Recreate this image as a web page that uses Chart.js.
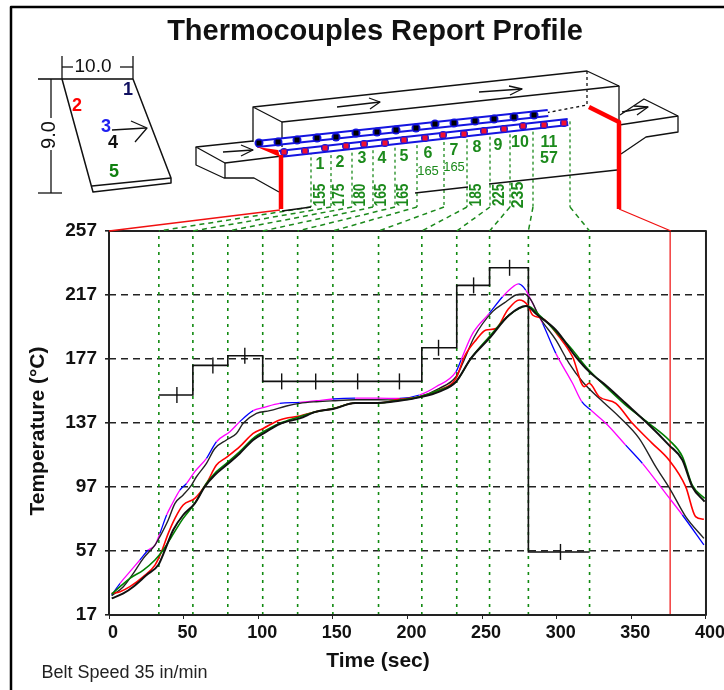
<!DOCTYPE html>
<html>
<head>
<meta charset="utf-8">
<title>Thermocouples Report Profile</title>
<script src="https://cdn.jsdelivr.net/npm/chart.js@4"></script>
<style>
  html, body { margin: 0; padding: 0; background: #fff; }
  canvas { display: block; filter: blur(0.35px); }
</style>
</head>
<body>
<canvas id="myChart" width="724" height="690"></canvas>
<script>
const tiempoTc1 = [1.8,9.6,16.3,25.2,33,37.5,43,49.7,57.5,64.2,70.9,78.7,87.6,96.6,105.5,114.4,127.8,139,150,165,180,194.6,208,221.4,232.5,242.5,254.8,268.2,279.3,287.1,299.4,312.8,321.7,334,346.2,360.7,375.2,384.2,390.8,399.1];
const tempTc1 = [27.4,30.5,34.7,42,48.2,57.6,70.1,79.5,86.8,97.2,104.5,110.7,118,126.4,131.6,136.4,139.9,144.1,145.7,149.5,149.5,150.9,153,156.6,162.8,177.4,189.9,204.5,210.1,204.5,195.1,178.4,169.1,159.7,149.3,136.8,123.2,113.9,97.2,87.8];

const tiempoTc2 = [1.8,7.4,14,23,30.8,35.2,39.7,44.2,49.7,57.5,65.3,72,78.7,87.6,96.6,103.3,114.4,127.8,139,150,165,180,194.6,208,221.4,232.5,238.1,245.9,252.6,259.3,267.1,274.9,280.5,283.8,290.5,301.6,310.6,318.4,321.7,328.4,339.6,350.7,364,375.2,386.4,393,398.6];
const tempTc2 = [30.5,31.6,34.7,41,48.2,56.6,68,77.4,85.7,89.9,99.3,110.7,115.5,122.2,130.5,133.6,138.9,141.4,144.1,146,149.5,149.5,151.8,153.4,157.6,164.9,178.4,188.8,195.1,196.1,207.6,213.9,210.7,204.5,202.4,190.9,178.4,159.7,161.8,153.4,149.3,136.8,124.3,113.9,97.2,78.5,76.8];

const tiempoTc3 = [1.8,7.4,14,20.7,26.3,30.8,34.1,38.6,41.9,47.5,52,57.5,65.3,72,81,87.6,96.6,103.3,114.4,127.8,139,150,165,180,194.6,208,219.1,232.5,235.9,243.7,254.8,263.7,269.3,274.4,279.2,283.8,290.5,299.4,310.6,316.8,322.8,332.9,346.2,357.4,373,384.2,398.6];
const tempTc3 = [29.5,36.8,44.1,51.4,57.6,60.7,68,79.5,85.7,95.1,99.3,106.6,114.9,125.3,131.6,137.8,144.7,146.6,149.3,149.9,150.9,152,152.5,152.5,152.4,154.5,159.7,169.1,176.4,193,205.5,215.9,221.1,223.9,220.1,211.8,199.3,180.5,161.8,150.3,145.1,136.8,123.2,111.8,93,79.5,60.8];

const tiempoTc4 = [1.8,9.6,16.3,23,30.8,34.1,39.7,44.2,49.7,55.3,58.6,65.3,70.9,78.7,85.4,89.9,98.8,107.7,118.9,127.8,139,150,165,180,194.6,208,221.4,232.5,237,244.8,257,266,272.7,278.2,282.7,288.3,299.4,308.3,317.3,328.4,341.8,355.2,366.3,376.3,386.4,398.6];
const tempTc4 = [29,34.7,43,52.4,60.7,66,76.4,86.8,92,98.2,103.4,111.8,121.1,126.4,130.5,136.8,143,144.7,147.6,149.3,150.3,150.9,151.5,151.5,151.4,153.4,158.7,165.9,174.3,190.9,206.6,212.8,217,217.6,213.9,203.4,188.9,174.3,162.8,152.4,140.9,127.4,109.7,95.1,78.5,64.9];

const tiempoTc5 = [1.8,7.4,14,23,30.8,36.3,41.9,49.7,57.5,65.3,72,78.7,87.6,96.6,105.5,114.4,127.8,139,150,165,180,194.6,208,221.4,232.5,242.5,254.8,268.2,280.5,288.3,299.4,310.6,319.5,332.9,346.2,361.8,375.2,384.2,390.8,399.1];
const tempTc5 = [30.1,34.7,39.9,45.1,51.4,57.6,65.9,77.4,86.8,99.3,106.6,111.8,119.1,127.4,132.6,136.8,140.9,144.1,146,149.5,149.5,151.4,153.4,157.6,162.8,177.4,190.9,204.5,210.1,204.5,194.1,182.6,172.2,159.7,148.2,136.8,126.4,116,98.2,89.9];

// zonas del horno
const zonasLimite = [33.4,56.2,79.6,103,126.4,150,180.6,209.6,233,255,281,322];
const zonasTemp = [154.5,173,179,163,163,163,163,184,223,234,56.4];
const marcasTiempo = [45.5,69.6,91,115.7,138.5,166.6,194.6,220.8,244.3,268.4,302.5];
const tiempoSalida = 376;

const yTicks = [17,57,97,137,177,217,257];
const xTicks = [0,50,100,150,200,250,300,350,400];

const fuente = '"Liberation Sans", Arial, sans-serif';
const verde = '#1c8a1c';

function puntos(xs, ys) {
  return xs.map((x, i) => ({ x: x, y: ys[i] }));
}

function curva(label, xs, ys, color, ancho) {
  return {
    label: label,
    data: puntos(xs, ys),
    borderColor: color,
    borderWidth: ancho,
    pointRadius: 0,
    showLine: true,
    cubicInterpolationMode: 'monotone',
  };
}

// escalones del perfil programado
const perfil = [];
zonasTemp.forEach((t, i) => {
  perfil.push({ x: zonasLimite[i], y: t });
  perfil.push({ x: zonasLimite[i + 1], y: t });
});

const lineasZona = zonasLimite.map((x) => ({
  label: 'zona',
  data: [{ x: x, y: 17 }, { x: x, y: 257 }],
  borderColor: '#118a11',
  borderWidth: 1.6,
  borderDash: [3, 5],
  pointRadius: 0,
  showLine: true,
}));

const tc3 = curva('TC3', tiempoTc3, tempTc3, '#ff00ff', 1.3);
tc3.segment = { borderColor: (c) => (c.p0DataIndex % 3 === 0 ? '#0000ff' : undefined) };

const datasets = [
  curva('TC1', tiempoTc1, tempTc1, '#111111', 2),
  curva('TC5', tiempoTc5, tempTc5, '#008000', 1.6),
  curva('TC2', tiempoTc2, tempTc2, '#ff0000', 1.6),
  curva('TC4', tiempoTc4, tempTc4, '#222222', 1.4),
  tc3,
  {
    label: 'Perfil',
    data: perfil,
    borderColor: '#111111',
    borderWidth: 1.6,
    pointRadius: 0,
    showLine: true,
  },
  {
    label: 'Marcas',
    data: puntos(marcasTiempo, zonasTemp),
    borderColor: '#111111',
    borderWidth: 1.4,
    pointStyle: 'line',
    rotation: 90,
    pointRadius: 8,
    showLine: false,
  },
  {
    label: 'Salida',
    data: [{ x: tiempoSalida, y: 17 }, { x: tiempoSalida, y: 257 }],
    borderColor: '#f23c3c',
    borderWidth: 1.5,
    pointRadius: 0,
    showLine: true,
  },
].concat(lineasZona);

function trazo(ctx, pts, color, ancho, dash) {
  ctx.save();
  ctx.strokeStyle = color || '#111';
  ctx.lineWidth = ancho || 1.3;
  ctx.setLineDash(dash || []);
  ctx.lineJoin = 'round';
  ctx.beginPath();
  pts.forEach((p, i) => (i ? ctx.lineTo(p[0], p[1]) : ctx.moveTo(p[0], p[1])));
  ctx.stroke();
  ctx.restore();
}

function texto(ctx, str, x, y, font, color, rot, maxAncho) {
  ctx.save();
  ctx.translate(x, y);
  if (rot) ctx.rotate(rot);
  ctx.font = font;
  ctx.fillStyle = color || '#111';
  ctx.textAlign = 'center';
  ctx.textBaseline = 'middle';
  ctx.fillText(str, 0, 0, maxAncho);
  ctx.restore();
}

// dibujo de la placa y del horno, arriba del grafico
const dibujoHorno = {
  id: 'dibujoHorno',
  afterDatasetsDraw(chart) {
    const ctx = chart.ctx;
    const a = chart.chartArea;
    const sx = chart.scales.x;

    // marco del grafico
    trazo(ctx, [[a.left, a.bottom], [a.left, a.top], [a.right, a.top], [a.right, a.bottom], [a.left, a.bottom]], '#222', 2);

    // borde de la pagina
    trazo(ctx, [[724, 7], [11, 7], [11, 690]], '#000', 2.5);

    // textos
    texto(ctx, 'Thermocouples Report Profile', 375, 32, 'bold 29px ' + fuente, '#111', 0, 421);
    texto(ctx, 'Time (sec)', 378, 661, 'bold 21px ' + fuente, '#111', 0, 105);
    texto(ctx, 'Temperature (°C)', 38, 431, 'bold 21px ' + fuente, '#111', -Math.PI / 2, 173);
    texto(ctx, 'Belt Speed 35 in/min', 124.5, 673, '18px ' + fuente, '#222', 0, 169);

    // placa
    trazo(ctx, [[38, 79], [133, 79]], '#444', 2);
    trazo(ctx, [[62, 56], [62, 79]]);
    trazo(ctx, [[133, 56], [133, 79]]);
    trazo(ctx, [[62, 67], [73, 67]]);
    trazo(ctx, [[120, 67], [133, 67]]);
    texto(ctx, '10.0', 93, 67, '19px ' + fuente);
    trazo(ctx, [[62, 79], [93, 192], [171, 183], [171, 178], [133, 79]], '#111', 1.5);
    trazo(ctx, [[92, 186], [171, 178]]);
    trazo(ctx, [[38, 193], [62, 193]]);
    trazo(ctx, [[51, 79], [51, 118]]);
    trazo(ctx, [[51, 150], [51, 193]]);
    texto(ctx, '9.0', 49, 135, '20px ' + fuente, '#111', -Math.PI / 2);
    texto(ctx, '1', 128, 90, 'bold 18px ' + fuente, '#101060');
    texto(ctx, '2', 77, 106, 'bold 18px ' + fuente, '#ff0000');
    texto(ctx, '3', 106, 127, 'bold 18px ' + fuente, '#2020f0');
    texto(ctx, '4', 113, 143, 'bold 18px ' + fuente, '#111');
    texto(ctx, '5', 114, 172, 'bold 18px ' + fuente, '#108010');
    trazo(ctx, [[112, 130], [146, 128]]);
    trazo(ctx, [[131, 121], [147, 128], [135, 142]]);

    // postes rojos y union con el grafico
    trazo(ctx, [[a.left, 231], [280, 210]], '#f01010', 1.3);
    trazo(ctx, [[619, 209], [671, 231]], '#f01010', 1.3);

    // lineas de zona: bajan del horno y se abren hacia el grafico
    const xHorno = [311, 331, 352, 373, 395, 417, 444, 467, 490, 510, 533, 570];
    xHorno.forEach((x, i) => {
      const yArriba = 155 - (x - 280) * 0.116;
      const xAbajo = sx.getPixelForValue(zonasLimite[i]);
      trazo(ctx, [[x, yArriba], [x, 207]], '#1c8a1c', 1.3, [3, 3]);
      trazo(ctx, [[x, 207], [xAbajo, 231]], '#1c8a1c', 1.5, [5, 4]);
    });

    // horno
    trazo(ctx, [[253, 142], [253, 107], [587, 71], [619, 86], [282, 122], [253, 107]]);
    trazo(ctx, [[282, 122], [282, 147]]);
    trazo(ctx, [[619, 86], [619, 125]]);
    trazo(ctx, [[587, 71], [587, 105], [545, 113]], '#111', 1.3, [3, 3]);
    trazo(ctx, [[282, 211], [311, 207]]);
    trazo(ctx, [[415, 193], [468, 187]]);
    trazo(ctx, [[489, 184], [617, 170]]);

    // entrada
    trazo(ctx, [[253, 141], [196, 147], [225, 163], [282, 156]]);
    trazo(ctx, [[196, 147], [196, 165], [224, 178], [254, 178], [279, 192]]);
    trazo(ctx, [[225, 163], [225, 178]]);
    trazo(ctx, [[223, 152], [253, 150]]);
    trazo(ctx, [[241, 145], [253, 150], [241, 156]]);

    // salida
    trazo(ctx, [[620, 115], [644, 99], [678, 116], [678, 132], [646, 137], [621, 154]]);
    trazo(ctx, [[619, 125], [678, 116]]);
    trazo(ctx, [[622, 112], [648, 107]]);
    trazo(ctx, [[634, 106], [648, 107], [637, 115]]);

    // flechas dentro del horno
    trazo(ctx, [[337, 107], [380, 102]]);
    trazo(ctx, [[369, 98], [380, 102], [370, 109]]);
    trazo(ctx, [[479, 92], [522, 89]]);
    trazo(ctx, [[509, 86], [522, 89], [510, 95]]);

    // cintas con termocuplas
    const cintaA = [[257, 144], [548, 113]];
    const cintaB = [[279, 154], [568, 122]];
    [cintaA, cintaB].forEach((c) => {
      trazo(ctx, c, '#1414e0', 8);
      trazo(ctx, c, '#ffffff', 4);
    });
    const negros = [[259, 143], [278, 142], [297, 140], [317, 138], [336, 137], [356, 133], [377, 132], [396, 130], [416, 128], [435, 124], [454, 123], [475, 121], [494, 119], [514, 117], [534, 115]];
    const rojos = [[284, 152], [305, 151], [325, 148], [346, 146], [364, 144], [385, 143], [404, 140], [425, 138], [443, 135], [464, 134], [484, 131], [504, 129], [523, 126], [544, 125], [564, 123]];
    negros.forEach((p) => {
      ctx.fillStyle = '#1414e0';
      ctx.beginPath();
      ctx.arc(p[0], p[1], 4.5, 0, Math.PI * 2);
      ctx.fill();
      ctx.fillStyle = '#000';
      ctx.fillRect(p[0] - 2.5, p[1] - 2.5, 5, 5);
    });
    rojos.forEach((p) => {
      ctx.fillStyle = '#1414e0';
      ctx.beginPath();
      ctx.arc(p[0], p[1], 4, 0, Math.PI * 2);
      ctx.fill();
      ctx.fillStyle = '#f01030';
      ctx.fillRect(p[0] - 2.5, p[1] - 2.5, 5, 5);
    });

    ctx.fillStyle = '#ff0000';
    ctx.beginPath();
    ctx.moveTo(257, 147);
    ctx.lineTo(278, 150);
    ctx.lineTo(280, 157);
    ctx.closePath();
    ctx.fill();
    trazo(ctx, [[281, 155], [281, 209]], '#ff0000', 4.5);
    trazo(ctx, [[589, 107], [619, 122], [619, 209]], '#ff0000', 4.5);

    // rotulos de zona
    const numeros = ['1', '2', '3', '4', '5', '6', '7', '8', '9', '10', '11'];
    const numX = [320, 340, 362, 382, 404, 428, 454, 477, 498, 520, 549];
    const numY = [165, 163, 159, 159, 157, 154, 151, 148, 146, 143, 143];
    numeros.forEach((n, i) => texto(ctx, n, numX[i], numY[i], 'bold 16px ' + fuente, verde));
    texto(ctx, '57', 549, 159, 'bold 16px ' + fuente, verde);
    texto(ctx, '165', 428, 171, '13px ' + fuente, verde);
    texto(ctx, '165', 454, 167, '13px ' + fuente, verde);
    const verticales = ['155', '175', '180', '165', '165', '185', '225', '235'];
    const vertX = [321, 340, 361, 382, 404, 477, 500, 519];
    const vertAncho = [23, 23, 23, 23, 23, 23, 22, 27];
    verticales.forEach((v, i) => texto(ctx, v, vertX[i], 195, 'bold 16px ' + fuente, verde, -Math.PI / 2, vertAncho[i]));
  },
};

new Chart(document.getElementById('myChart'), {
  type: 'scatter',
  data: { datasets: datasets },
  plugins: [dibujoHorno],
  options: {
    responsive: false,
    animation: false,
    layout: { padding: { top: 231, right: 17, left: 0, bottom: 0 } },
    plugins: {
      legend: { display: false },
      tooltip: { enabled: false },
      title: { display: false },
    },
    scales: {
      x: {
        type: 'linear',
        min: 0,
        max: 400,
        afterFit: (s) => { s.height = 75; },
        afterBuildTicks: (s) => { s.ticks = xTicks.map((v) => ({ value: v })); },
        border: { display: false },
        grid: { drawOnChartArea: false, drawTicks: true, tickLength: 4, tickColor: '#222' },
        ticks: { color: '#111', padding: 3, labelOffset: 4, maxRotation: 0, font: { family: fuente, size: 18, weight: 'bold' } },
      },
      y: {
        type: 'linear',
        min: 17,
        max: 257,
        afterFit: (s) => { s.width = 109; },
        afterBuildTicks: (s) => { s.ticks = yTicks.map((v) => ({ value: v })); },
        border: { display: false, dash: [7, 5] },
        grid: { color: '#222', lineWidth: 1.6, tickLength: 4, tickColor: '#222', tickBorderDash: [] },
        ticks: { color: '#111', padding: 8, font: { family: fuente, size: 19, weight: 'bold' } },
      },
    },
  },
});
</script>
</body>
</html>
